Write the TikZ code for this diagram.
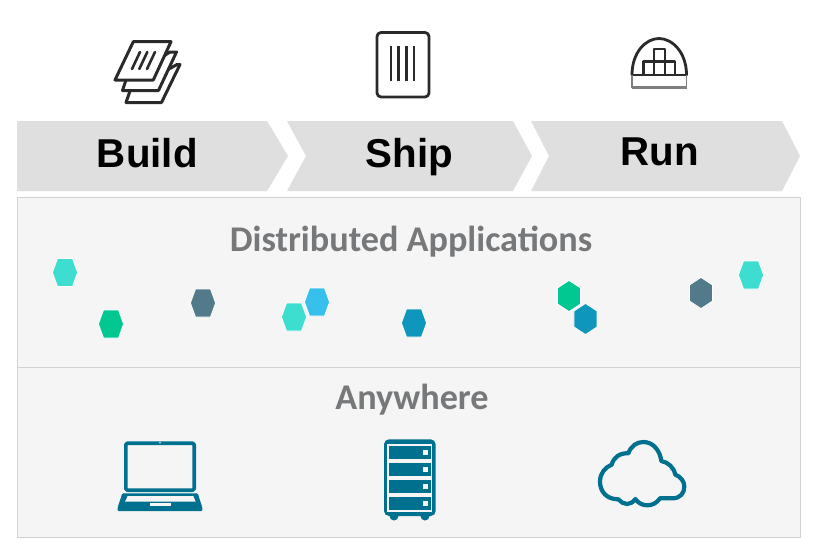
\documentclass[tikz,border=0pt]{standalone}
\usepackage{fontspec}
\setmainfont{Liberation Sans}
\newfontfamily\carl{Carlito}
\definecolor{chev}{HTML}{DFDFDF}
\definecolor{panel}{HTML}{F5F5F5}
\definecolor{edge}{HTML}{D2D2D2}
\definecolor{titlegray}{HTML}{76787A}
\definecolor{teal}{HTML}{00708F}
\definecolor{ink}{HTML}{2A2A2A}
\definecolor{turq}{HTML}{3DDDD0}
\definecolor{jade}{HTML}{00C890}
\definecolor{slate}{HTML}{527A8A}
\definecolor{sky}{HTML}{38C0EC}
\definecolor{ocean}{HTML}{0E96BC}
\tikzset{
  chevron/.style={fill=chev,draw=none},
  steplabel/.style={font=\bfseries\fontsize{40.3}{40.3}\selectfont,text=black,inner sep=0pt,anchor=base},
  paneltitle/.style={font=\carl\bfseries\fontsize{36.2}{36.2}\selectfont,text=titlegray,inner sep=0pt,anchor=base},
  panelbox/.style={fill=panel,draw=edge,line width=1pt},
  lineicon/.style={draw=ink,line width=3pt,line join=round,line cap=round},
  sheet/.style={lineicon,fill=white},
  tealline/.style={draw=teal,line width=3.6pt,line join=round},
  hexf/.style={draw=white,line width=0.8pt,line join=round},
}
\newcommand{\hexflat}[3]{\path[hexf,fill=#1] (#2-12.6,#3) -- (#2-7.5,#3-14) -- (#2+7.5,#3-14) -- (#2+12.6,#3) -- (#2+7.5,#3+14) -- (#2-7.5,#3+14) -- cycle;}
\newcommand{\hexpoint}[3]{\path[hexf,fill=#1] (#2,#3-15.6) -- (#2+11.6,#3-8) -- (#2+11.6,#3+8) -- (#2,#3+15.6) -- (#2-11.6,#3+8) -- (#2-11.6,#3-8) -- cycle;}
\begin{document}
\begin{tikzpicture}[x=1pt,y=-1pt]
\useasboundingbox (0,0) rectangle (833,554);
\fill[white] (0,0) rectangle (833,554);

% chevrons
\path[chevron] (17,121) -- (267,121) -- (288,156) -- (267,191) -- (17,191) -- cycle;
\path[chevron] (287,121) -- (513,121) -- (532,156) -- (513,191) -- (287,191) -- (306,156) -- cycle;
\path[chevron] (531,121) -- (782,121) -- (800,156) -- (782,191) -- (531,191) -- (549,156) -- cycle;
\node[steplabel] (build) at (147.3,167.5) {Build};
\node[steplabel] (ship) at (409.5,167) {Ship};
\node[steplabel] (run) at (659.5,165) {Run};

% panels
\path[panelbox] (17,197) rectangle (800,537);
\draw[edge,line width=1pt] (17,367.5) -- (800,367.5);
\node[paneltitle] (dist) at (411,251) {Distributed Applications};
\node[paneltitle] (any) at (412,409) {Anywhere};

% hexagons
\hexflat{turq}{65}{272.5}
\hexflat{jade}{111}{324}
\hexflat{slate}{203}{303}
\hexflat{sky}{317}{302}
\hexflat{turq}{294}{317}
\hexflat{ocean}{414}{323}
\hexpoint{jade}{569}{296}
\hexpoint{ocean}{585.5}{319}
\hexpoint{slate}{701}{293}
\hexflat{turq}{751}{275}

% build icon
\path[sheet] (177,64.5) -- (180,64.5) -- (161.5,102.5) -- (126,102.5) -- (130,91) -- cycle;
\path[sheet] (170,52) -- (176.5,52) -- (158.5,90.5) -- (122.5,90.5) -- (126,80) -- cycle;
\path[sheet] (133.3,41.7) -- (171,41.7) -- (153.3,80) -- (115,80) -- cycle;
\draw[lineicon,line width=2.6pt] (140,52) -- (132,69);
\draw[lineicon,line width=2.6pt] (147.3,52) -- (139.3,69);
\draw[lineicon,line width=2.6pt] (155,52) -- (147,69);

% ship icon
\draw[lineicon,line width=2.8pt,rounded corners=4pt] (377,32.5) rectangle (429,97);
\foreach \lx in {390.7,398.3,406.3,413.7}
  \draw[lineicon,line width=2.4pt,line cap=butt] (\lx,46) -- (\lx,81);

% run icon
\draw[lineicon,line width=2.8pt] (632,75) .. controls (632,52) and (646,38.5) .. (659,38.5) .. controls (672,38.5) and (686.5,52) .. (686.5,75);
\draw[lineicon,line width=2.8pt,line cap=butt] (632,75) -- (686.5,75);
\draw[draw=ink!60,line width=2.4pt] (632,87.5) -- (686.5,87.5);
\draw[draw=ink!60,line width=1.4pt] (632,75) -- (632,87.5) (686.5,75) -- (686.5,87.5);
\draw[lineicon,line width=2.8pt,line cap=butt] (643.5,75) -- (643.5,61.7) -- (675,61.7) -- (675,75)
  (654,75) -- (654,49 ) -- (665,49) -- (665,75);

% laptop
\draw[tealline,rounded corners=1.5pt] (125.8,443.2) rectangle (194.2,490.2);
\fill[white] (160,442.7) circle (0.9);
\fill[teal,rounded corners=1pt] (122.3,493.3) -- (197.7,493.3) -- (202.3,507.3) -- (202.3,511) -- (117.7,511) -- (117.7,507.3) -- cycle;
\fill[panel] (127.7,496) -- (193.3,496) -- (195.7,501.7) -- (125,501.7) -- cycle;
\fill[panel] (150,503.3) rectangle (170.7,506);

% server
\fill[teal,rounded corners=5pt] (384,439.3) rectangle (435.7,516);
\fill[teal] (394,516) circle (4.5) (425,516) circle (4.5);
\fill[panel] (387.3,443.5) rectangle (432.3,511.7);
\foreach \ya/\yb in {445.7/459.3,462.7/476,479.7/493,496.7/510}{
  \fill[teal] (389,\ya) rectangle (431,\yb);
  \fill[panel] (423.2,{(\ya+\yb)/2-2.2}) rectangle (427.6,{(\ya+\yb)/2+2.2});
}

% cloud
\begin{scope}[shift={(585,430)},scale=1/3]
\draw[tealline,line width=4.2pt,fill=panel]
  (100,208) .. controls (65,208) and (45,185) .. (45,155)
  .. controls (45,130) and (60,112) .. (80,104)
  .. controls (86,82) and (105,68) .. (130,70)
  .. controls (138,48) and (155,36) .. (175,36)
  .. controls (205,36) and (225,62) .. (229,93)
  .. controls (250,97) and (266,112) .. (271,134)
  .. controls (288,140) and (298,155) .. (298,170)
  .. controls (298,190) and (285,205) .. (262,205)
  -- (225,205)
  .. controls (215,220) and (200,226) .. (187,226)
  .. controls (172,226) and (158,218) .. (151,207)
  .. controls (144,217) and (135,222) .. (126,222)
  .. controls (116,222) and (107,216) .. (100,208) -- cycle;
\end{scope}
\end{tikzpicture}
\end{document}
